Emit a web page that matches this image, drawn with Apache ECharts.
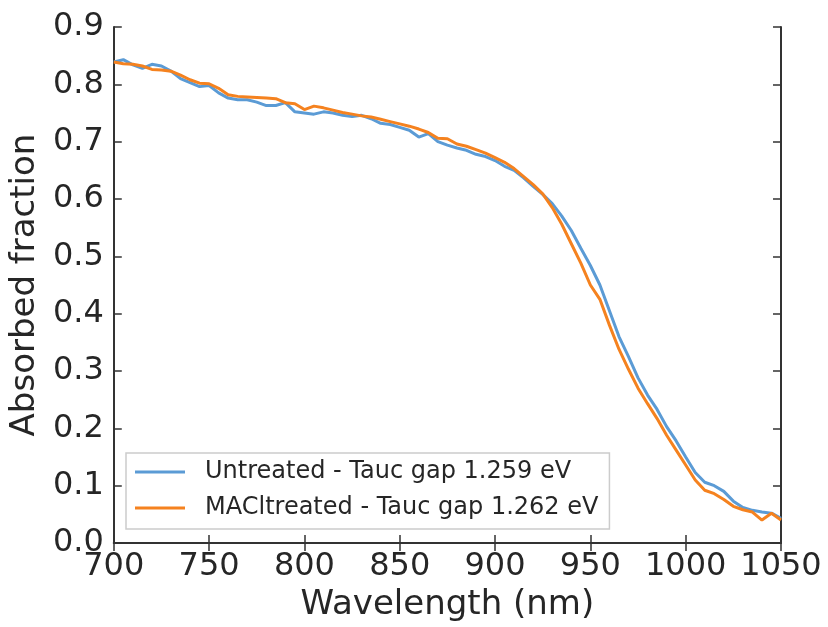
<!DOCTYPE html>
<html>
<head>
<meta charset="utf-8">
<script src="https://cdn.jsdelivr.net/npm/echarts@6/dist/echarts.min.js"></script>
<style>
  html, body { margin: 0; padding: 0; background: #fff; }
  #main { width: 828px; height: 627px; }
</style>
</head>
<body>
<div id="main"></div>
<script>
var myChart = echarts.init(document.getElementById('main'));

// wavelength (nm), 5 nm steps
var wavelength = [700, 705, 710, 715, 720, 725, 730, 735, 740, 745,
    750, 755, 760, 765, 770, 775, 780, 785, 790, 795,
    800, 805, 810, 815, 820, 825, 830, 835, 840, 845,
    850, 855, 860, 865, 870, 875, 880, 885, 890, 895,
    900, 905, 910, 915, 920, 925, 930, 935, 940, 945,
    950, 955, 960, 965, 970, 975, 980, 985, 990, 995,
    1000, 1005, 1010, 1015, 1020, 1025, 1030, 1035, 1040, 1045, 1050];

// Untreated
var untreated = [0.839, 0.843, 0.834, 0.828, 0.835, 0.832, 0.823, 0.810, 0.803, 0.796,
    0.798, 0.785, 0.776, 0.773, 0.773, 0.769, 0.763, 0.763, 0.768, 0.752,
    0.750, 0.748, 0.752, 0.750, 0.746, 0.744, 0.746, 0.740, 0.732, 0.730,
    0.725, 0.720, 0.708, 0.714, 0.700, 0.694, 0.689, 0.685, 0.678, 0.674,
    0.667, 0.657, 0.650, 0.637, 0.622, 0.608, 0.592, 0.570, 0.545, 0.514,
    0.484, 0.450, 0.405, 0.360, 0.325, 0.288, 0.258, 0.233, 0.203, 0.178,
    0.150, 0.123, 0.106, 0.100, 0.090, 0.073, 0.062, 0.057, 0.054, 0.052, 0.043];

// MACl treated
var maclTreated = [0.839, 0.836, 0.835, 0.832, 0.826, 0.825, 0.823, 0.816, 0.808, 0.802,
    0.801, 0.793, 0.782, 0.779, 0.778, 0.777, 0.776, 0.775, 0.768, 0.766,
    0.756, 0.762, 0.759, 0.755, 0.751, 0.748, 0.745, 0.743, 0.739, 0.735,
    0.731, 0.727, 0.722, 0.716, 0.706, 0.705, 0.696, 0.692, 0.686, 0.680,
    0.672, 0.664, 0.653, 0.639, 0.625, 0.609, 0.585, 0.556, 0.522, 0.488,
    0.450, 0.425, 0.380, 0.338, 0.303, 0.270, 0.243, 0.217, 0.188, 0.162,
    0.136, 0.110, 0.092, 0.086, 0.076, 0.064, 0.058, 0.054, 0.040, 0.052, 0.040];

var seriesNames = ['Untreated - Tauc gap 1.259 eV', 'MACltreated - Tauc gap 1.262 eV'];

function pairs(ys) {
    return wavelength.map(function (x, i) { return [x, ys[i]]; });
}

var font = 'DejaVu Sans';
var axisColor = '#333';
var textColor = '#262626';

var frameAxis = {
    axisLine: { show: true, lineStyle: { color: axisColor, width: 2 } },
    axisTick: { show: true, inside: true, length: 8, lineStyle: { color: axisColor, width: 1.5 } },
    splitLine: { show: false }
};

option = {
    animation: false,
    backgroundColor: '#fff',
    grid: { left: 113, right: 47, top: 27, bottom: 82 },
    legend: {
        data: seriesNames,
        orient: 'vertical',
        left: 126,
        top: 453,
        icon: 'rect',
        itemWidth: 50,
        itemHeight: 3,
        itemGap: 12,
        padding: [7, 11, 9, 9],
        borderColor: '#ccc',
        borderWidth: 1.5,
        backgroundColor: '#fff',
        textStyle: { fontFamily: font, fontSize: 24, lineHeight: 24, color: textColor, padding: [0, 0, 0, 15] }
    },
    xAxis: [Object.assign({
        type: 'value',
        min: 700, max: 1050, interval: 50,
        name: 'Wavelength (nm)',
        nameLocation: 'middle',
        nameGap: 45,
        nameTextStyle: { fontFamily: font, fontSize: 34, color: textColor, verticalAlign: 'top' },
        axisLabel: {
            fontFamily: font, fontSize: 32, color: textColor, margin: 8,
            formatter: function (v) { return String(v); }
        }
    }, frameAxis), Object.assign({
        type: 'value', position: 'top',
        min: 700, max: 1050, interval: 50,
        axisLabel: { show: false }
    }, frameAxis)],
    yAxis: [Object.assign({
        type: 'value',
        min: 0, max: 0.9, interval: 0.1,
        name: 'Absorbed fraction',
        nameLocation: 'middle',
        nameGap: 64,
        nameTextStyle: { fontFamily: font, fontSize: 34, color: textColor },
        axisLabel: {
            fontFamily: font, fontSize: 32, color: textColor, margin: 10,
            formatter: function (v) { return v.toFixed(1); }
        }
    }, frameAxis), Object.assign({
        type: 'value', position: 'right',
        min: 0, max: 0.9, interval: 0.1,
        axisLabel: { show: false }
    }, frameAxis)],
    series: [{
        name: seriesNames[0],
        type: 'line',
        data: pairs(untreated),
        symbol: 'none',
        color: '#5b9bd5',
        lineStyle: { width: 3, color: '#5b9bd5' }
    }, {
        name: seriesNames[1],
        type: 'line',
        data: pairs(maclTreated),
        symbol: 'none',
        color: '#f5821f',
        lineStyle: { width: 3, color: '#f5821f' }
    }]
};
myChart.setOption(option);
</script>
</body>
</html>
